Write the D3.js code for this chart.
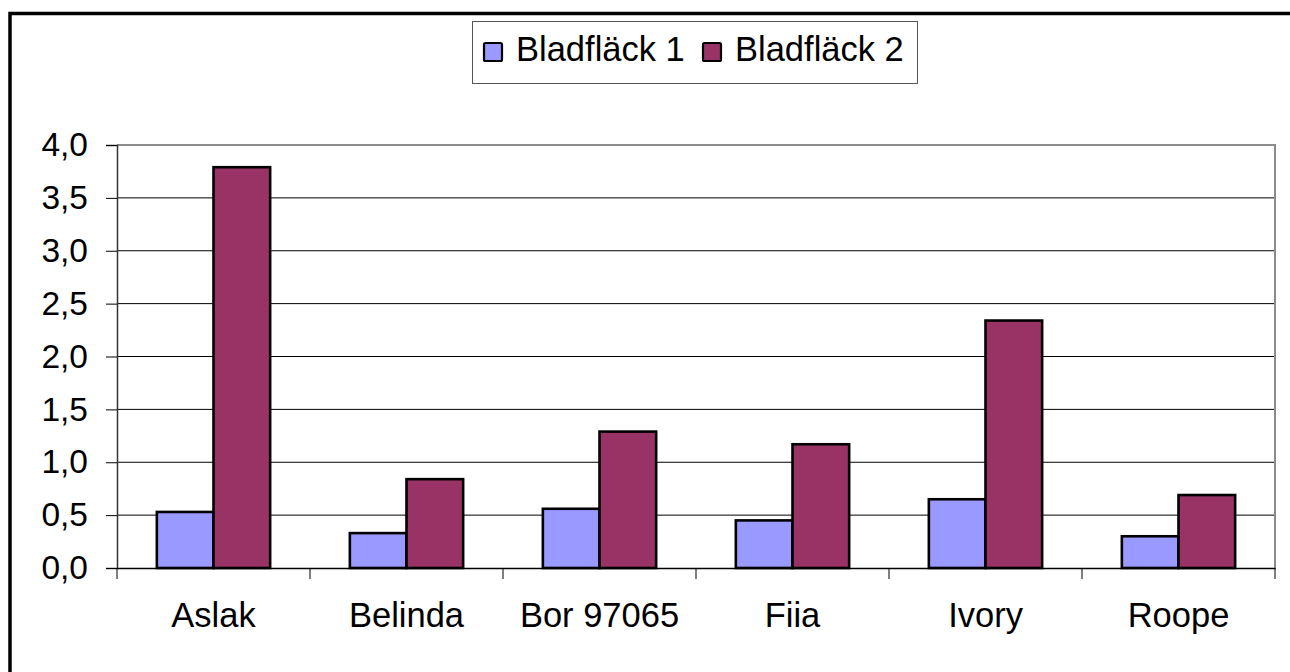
<!DOCTYPE html>
<html>
<head>
<meta charset="utf-8">
<script src="https://cdn.jsdelivr.net/npm/d3@7"></script>
<style>
  body { margin: 0; background: #fff; }
  svg { display: block; font-family: "Liberation Sans", Arial, sans-serif; }
</style>
</head>
<body>
<div id="chart"></div>
<script>
'use strict';

var categories = ["Aslak", "Belinda", "Bor 97065", "Fiia", "Ivory", "Roope"];
var seriesNames = ["Bladfläck 1", "Bladfläck 2"];
var bladflack1 = [0.53, 0.33, 0.56, 0.45, 0.65, 0.30];
var bladflack2 = [3.79, 0.84, 1.29, 1.17, 2.34, 0.69];
var yTicks = [0, 0.5, 1, 1.5, 2, 2.5, 3, 3.5, 4];
var colors = ["#9999FF", "#993366"];

var svgWidth = 1290, svgHeight = 672;
var plot = { left: 117, top: 145, right: 1275, bottom: 568 };
var fontSize = 34.5;

var svg = d3.select("#chart").append("svg")
    .attr("width", svgWidth)
    .attr("height", svgHeight);

// outer chart frame (runs off the right/bottom edge like the original)
svg.append("rect")
    .attr("x", 10).attr("y", 13.5)
    .attr("width", 1300).attr("height", 700)
    .attr("fill", "none")
    .attr("stroke", "#000")
    .attr("stroke-width", 3.5);

var x = d3.scaleBand()
    .domain(categories)
    .range([plot.left, plot.right])
    .paddingInner(0.413)
    .paddingOuter(0.2065);

var xSub = d3.scaleBand()
    .domain([0, 1])
    .range([0, x.bandwidth()]);

var y = d3.scaleLinear()
    .domain([0, 4])
    .range([plot.bottom, plot.top]);

var fmt = function(v) { return d3.format(".1f")(v).replace(".", ","); };

// gridlines
svg.append("g").selectAll("line")
    .data(yTicks.filter(function(d) { return d > 0 && d < 4; }))
    .enter().append("line")
    .attr("x1", plot.left).attr("x2", plot.right)
    .attr("y1", function(d) { return y(d); })
    .attr("y2", function(d) { return y(d); })
    .attr("stroke", "#000")
    .attr("stroke-width", 1);

// plot frame top / right in gray
svg.append("path")
    .attr("d", "M" + plot.left + "," + plot.top + "H" + plot.right + "V" + plot.bottom)
    .attr("fill", "none")
    .attr("stroke", "#8c8c8c")
    .attr("stroke-width", 2);

// bars
var series = [bladflack1, bladflack2];
var rows = [];
categories.forEach(function(c, i) {
    series.forEach(function(s, j) {
        rows.push({ cat: c, s: j, value: s[i] });
    });
});

svg.append("g").selectAll("rect")
    .data(rows)
    .enter().append("rect")
    .attr("x", function(d) { return x(d.cat) + xSub(d.s); })
    .attr("y", function(d) { return y(d.value); })
    .attr("width", xSub.bandwidth())
    .attr("height", function(d) { return y(0) - y(d.value); })
    .attr("fill", function(d) { return colors[d.s]; })
    .attr("stroke", "#000")
    .attr("stroke-width", 2.6);

// y axis
var yAxis = svg.append("g")
    .attr("transform", "translate(" + plot.left + ",0)")
    .call(d3.axisLeft(y).tickValues(yTicks).tickFormat(fmt).tickSize(11).tickPadding(18));
yAxis.select(".domain").attr("stroke", "#333").attr("stroke-width", 1.5);
yAxis.selectAll(".tick line").attr("stroke", "#000");
yAxis.selectAll("text")
    .attr("font-size", fontSize - 1)
    .attr("font-family", "Liberation Sans, Arial, sans-serif")
    .attr("fill", "#000");

// x axis
var xAxis = svg.append("g")
    .attr("transform", "translate(0," + plot.bottom + ")")
    .call(d3.axisBottom(x).tickSize(0).tickPadding(35));
xAxis.select(".domain").attr("stroke", "#000").attr("stroke-width", 1.5);
xAxis.selectAll("text")
    .attr("font-size", fontSize)
    .attr("font-family", "Liberation Sans, Arial, sans-serif")
    .attr("fill", "#000");

// category separator ticks
var sepX = categories.map(function(c) { return x(c) - x.step() * x.paddingInner() / 2; })
    .concat([plot.right]);
svg.append("g").selectAll("line")
    .data(sepX)
    .enter().append("line")
    .attr("x1", function(d) { return d; }).attr("x2", function(d) { return d; })
    .attr("y1", plot.bottom).attr("y2", plot.bottom + 11)
    .attr("stroke", "#000")
    .attr("stroke-width", 1);

// legend
var legend = svg.append("g");
legend.append("rect")
    .attr("x", 472.5).attr("y", 21.5)
    .attr("width", 445).attr("height", 62)
    .attr("fill", "#fff")
    .attr("stroke", "#555")
    .attr("stroke-width", 1);

var legendX = [484, 703];
seriesNames.forEach(function(name, i) {
    legend.append("rect")
        .attr("x", legendX[i]).attr("y", 43)
        .attr("width", 18).attr("height", 18)
        .attr("rx", 1.5)
        .attr("fill", colors[i])
        .attr("stroke", "#000")
        .attr("stroke-width", 2.2);
    legend.append("text")
        .attr("x", legendX[i] + 32).attr("y", 61)
        .attr("font-size", fontSize)
        .attr("fill", "#000")
        .text(name);
});
</script>
</body>
</html>
